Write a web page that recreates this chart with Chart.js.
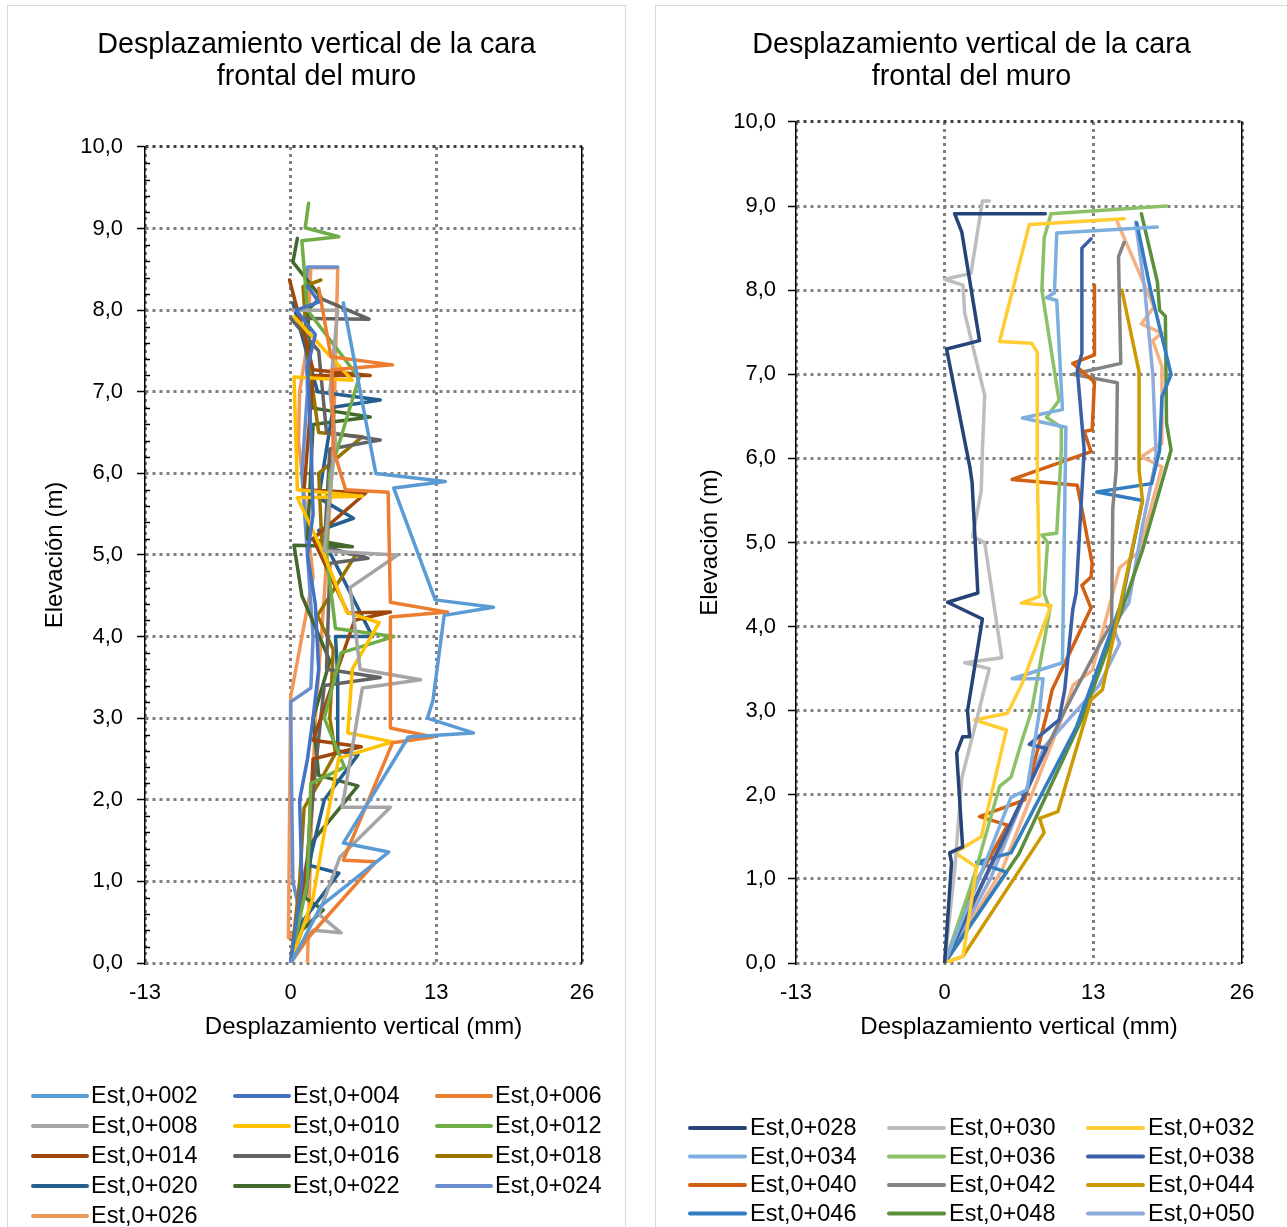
<!DOCTYPE html>
<html lang="es">
<head>
<meta charset="utf-8">
<title>Desplazamiento vertical de la cara frontal del muro</title>
<script src="https://cdn.jsdelivr.net/npm/chart.js@4.4.1/dist/chart.umd.min.js"></script>
<style>
    html, body { margin: 0; padding: 0; background: #fff; overflow: hidden; }
    body { width: 1287px; height: 1227px; position: relative; }
    .panel { position: absolute; top: 5px; border: 1px solid #d9d9d9; background: #fff; }
    #panelLeft { left: 7px; width: 617px; height: 1250px; }
    #panelRight { left: 655px; width: 640px; height: 1250px; }
    canvas { position: absolute; top: 1px; }
</style>
</head>
<body>
<div class="panel" id="panelLeft"><canvas id="chartLeft" width="615" height="1240" style="left:1px"></canvas></div>
<div class="panel" id="panelRight"><canvas id="chartRight" width="631" height="1240" style="left:0"></canvas></div>

<script>
/* ==============================
   DATA  (desplazamiento mm, elevación m)
================================= */

const titleLines = ['Desplazamiento vertical de la cara', 'frontal del muro'];
const xTitle = 'Desplazamiento vertical (mm)';
const yTitle = 'Elevación (m)';
const xTicks = [-13, 0, 13, 26];
const yTicks = [0, 1, 2, 3, 4, 5, 6, 7, 8, 9, 10];

const leftLabels = ['Est,0+002', 'Est,0+004', 'Est,0+006', 'Est,0+008', 'Est,0+010', 'Est,0+012',
    'Est,0+014', 'Est,0+016', 'Est,0+018', 'Est,0+020', 'Est,0+022', 'Est,0+024', 'Est,0+026'];

const rightLabels = ['Est,0+028', 'Est,0+030', 'Est,0+032', 'Est,0+034', 'Est,0+036', 'Est,0+038',
    'Est,0+040', 'Est,0+042', 'Est,0+044', 'Est,0+046', 'Est,0+048', 'Est,0+050', 'Est,0+052'];

// left panel
const est002 = [[0,0],[1.2,0.3],[2.7,0.7],[8.75,1.36],[4.7,1.47],[10.5,2.77],[16.3,2.82],[12.2,3.0],[12.7,3.22],[13.7,4.26],[18.1,4.36],[12.9,4.45],[9.2,5.82],[13.8,5.9],[7.6,6.0],[4.7,8.09]];
const est004 = [[0,0],[0.5,0.5],[1.0,1.0],[0.8,2.0],[1.5,2.5],[2.0,3.0],[2.5,3.6],[2.2,4.4],[1.5,5.0],[2.0,5.5],[1.8,6.5],[1.5,7.3],[2.2,7.7],[0.5,8.0],[2.5,8.1],[1.5,8.3]];
const est006 = [[0,0],[1.5,0.3],[7.6,1.24],[4.7,1.26],[9.1,2.7],[12.7,2.77],[8.9,2.88],[8.9,4.24],[14.0,4.3],[8.9,4.42],[8.7,5.77],[4.9,5.8],[3.8,6.3],[3.7,7.27],[9.1,7.33],[3.6,7.43],[2.5,8.27]];
const est008 = [[0,0],[2.0,0.4],[4.5,0.37],[2.5,0.6],[4.4,1.3],[8.9,1.91],[4.6,1.91],[6.4,3.37],[11.6,3.47],[6.2,3.6],[5.3,4.6],[9.55,5.0],[3.0,5.05],[4.0,6.4],[3.5,7.0],[4.2,8.0],[0.2,8.0]];
const est010 = [[0,0],[2.0,0.8],[3.0,1.6],[4.3,2.51],[9.1,2.71],[5.1,2.82],[5.5,3.6],[7.9,4.17],[5.0,4.3],[3.0,5.0],[0.6,5.7],[6.4,5.72],[0.6,5.8],[0.3,7.18],[5.5,7.14],[0.3,7.92]];
const est012 = [[0,0],[1.5,1.0],[1.8,2.2],[4.8,2.4],[3.0,3.0],[4.5,3.8],[9.2,4.0],[4.0,4.1],[3.2,5.0],[3.5,6.0],[6.1,7.17],[1.5,8.0],[1.0,8.85],[4.3,8.9],[1.3,9.01],[1.6,9.31]];
const est014 = [[0,0],[1.5,1.2],[2.0,2.5],[6.3,2.65],[2.0,2.73],[5.7,4.2],[8.9,4.3],[5.1,4.29],[2.0,5.2],[6.7,5.76],[1.2,5.8],[2.0,7.2],[7.1,7.2],[2.0,7.27],[-0.1,8.37]];
const est016 = [[0,0],[1.5,1.3],[2.3,2.5],[3.0,3.4],[8.0,3.5],[3.2,3.6],[3.5,4.9],[6.9,4.96],[3.0,5.1],[3.5,6.3],[8.0,6.41],[3.2,6.5],[2.5,7.5],[0,7.9],[7.0,7.89],[2.4,8.16]];
const est018 = [[0,0],[0.8,1.0],[1.2,1.9],[2.5,2.2],[4.0,2.57],[3.5,3.0],[3.8,3.84],[2.4,4.26],[5.8,5.0],[2.8,5.1],[2.5,6.0],[6.4,6.45],[2.5,6.5],[1.5,7.5],[1.1,8.29],[2.7,8.37]];
const est020 = [[0,0],[1.0,0.5],[4.3,1.1],[1.6,1.2],[3.0,2.0],[6.0,2.55],[4.2,2.6],[4.2,3.5],[4.0,4.0],[7.3,4.0],[2.5,5.3],[5.6,5.45],[2.5,5.7],[3.8,6.81],[8.0,6.9],[2.4,7.0],[0.2,8.09]];
const est022 = [[0,0],[1.0,0.4],[2.9,0.65],[1.3,0.8],[2.0,1.5],[6.0,2.17],[2.5,2.3],[2.0,3.0],[3.5,3.7],[1.0,4.5],[0.3,5.12],[5.5,5.1],[1.5,5.2],[2.0,6.6],[7.1,6.69],[2.0,6.8],[1.5,8.0],[2.7,8.16],[0.2,8.59],[0.6,8.88]];
const est024 = [[0,0],[1.0,0.5],[0.2,1.0],[0.1,2.0],[0,3.2],[1.8,3.37],[2.0,4.0],[1.5,5.0],[1.0,6.0],[1.5,7.0],[1.3,8.0],[1.5,8.53],[4.2,8.53]];
const est026 = [[1.5,0],[1.8,1.5],[2.2,3.0],[3.0,4.5],[3.8,6.3],[4.2,8.52],[1.8,8.52],[1.5,7.6],[0.8,7.0],[0.7,6.4],[2.0,4.73],[0,3.26],[-0.2,0.31],[1.5,0.55]];

// right panel
const est028 = [[0,0],[0.6,1.19],[0.44,1.31],[1.57,1.38],[1.05,2.5],[1.57,2.69],[2.18,2.69],[2.0,3.0],[3.3,4.09],[0.26,4.29],[2.9,4.4],[2.4,5.71],[2.2,5.9],[0.17,7.3],[3.05,7.4],[1.5,8.69],[0.87,8.91],[8.8,8.91]];
const est030 = [[0,0],[0.9,1.14],[1.5,2.2],[3.0,3.0],[3.9,3.5],[1.75,3.57],[5.0,3.63],[3.5,5.0],[2.45,5.07],[3.2,5.62],[3.3,6.1],[3.5,6.75],[1.75,7.73],[1.6,8.06],[0,8.13],[2.3,8.2],[3.3,9.06],[3.9,9.06]];
const est032 = [[0,0],[1.6,0.08],[2.8,1.14],[0.9,1.31],[3.2,1.5],[5.4,2.77],[2.6,2.89],[5.5,2.97],[6.8,3.33],[9.3,4.25],[6.7,4.28],[8.3,4.36],[8.1,5.86],[8.1,7.26],[7.6,7.37],[4.8,7.39],[7.4,8.78],[15.7,8.85]];
const est034 = [[0,0],[3.0,1.0],[5.8,1.97],[7.2,2.06],[8.3,3.0],[8.6,3.38],[5.9,3.38],[10.3,3.57],[10.6,6.37],[6.8,6.48],[10.3,6.58],[9.8,7.88],[8.9,7.91],[9.6,7.97],[9.8,8.68],[18.6,8.75]];
const est036 = [[0,0],[2.5,1.0],[4.8,2.1],[5.8,2.21],[6.7,2.62],[7.6,3.0],[9.2,4.2],[8.7,4.4],[9.0,5.0],[8.5,5.09],[9.8,5.11],[10.2,6.1],[10.2,6.37],[8.9,6.49],[10.0,6.69],[8.5,8.0],[8.7,8.62],[9.3,8.91],[19.4,9.0]];
const est038 = [[0,0],[4.5,1.3],[8.9,2.55],[7.4,2.6],[10.0,2.89],[10.5,3.25],[11.2,4.2],[11.5,4.4],[12.2,6.1],[11.6,7.05],[12.0,7.25],[12.0,8.5],[12.8,8.61]];
const est040 = [[0,0],[2.5,0.9],[5.5,1.64],[3.05,1.74],[7.0,1.94],[9.0,3.0],[9.4,3.25],[12.8,4.22],[12.0,4.49],[12.8,4.59],[12.9,4.75],[11.6,5.68],[5.9,5.75],[12.8,6.08],[12.2,6.32],[12.9,6.34],[13.1,6.91],[11.2,7.13],[13.1,7.23],[13.1,8.06]];
const est042 = [[0,0],[6.0,1.7],[8.9,2.55],[10.5,3.0],[13.2,3.7],[14.6,4.04],[14.7,5.41],[15.0,5.86],[15.1,6.9],[11.2,7.0],[15.4,7.13],[15.2,8.4],[15.7,8.57]];
const est044 = [[0,0],[1.6,0.08],[8.7,1.55],[8.3,1.72],[9.9,1.8],[11.3,2.45],[12.8,3.13],[13.8,3.25],[15.5,4.35],[17.3,5.5],[17.0,5.86],[17.0,7.03],[15.5,8.0]];
const est046 = [[0,0],[5.4,1.08],[2.8,1.2],[5.8,1.31],[11.5,2.8],[15.5,4.3],[17.3,5.5],[13.3,5.6],[18.1,5.7],[18.8,6.1],[19.0,6.73],[19.8,7.0],[18.0,8.0],[16.8,8.8]];
const est048 = [[0,0],[6.5,1.3],[12.0,2.9],[15.5,4.2],[17.3,4.91],[19.8,6.1],[19.4,6.42],[19.3,7.69],[18.8,7.76],[18.6,8.1],[17.2,8.91]];
const est050 = [[0,0],[4.0,1.0],[8.7,2.57],[13.5,3.3],[15.3,3.8],[14.7,4.0],[16.1,4.28],[17.3,5.2],[18.5,6.0],[18.2,7.0],[17.5,8.0],[16.7,8.81]];
const est052 = [[0,0],[5.0,1.1],[10.5,3.0],[11.2,3.3],[12.9,3.48],[15.3,4.7],[17.0,4.89],[19.0,5.9],[17.2,6.02],[19.0,6.18],[19.0,7.09],[18.2,7.4],[19.0,7.49],[17.2,7.6],[18.3,7.8],[15.1,8.81]];

const leftSeries = [est002, est004, est006, est008, est010, est012, est014, est016, est018, est020, est022, est024, est026];
const rightSeries = [est028, est030, est032, est034, est036, est038, est040, est042, est044, est046, est048, est050, est052];

/* ==============================
   STYLES
================================= */

const leftColors = ['#5B9BD5', '#4472C4', '#ED7D31', '#A5A5A5', '#FFC000', '#70AD47',
    '#9E480E', '#636363', '#997300', '#255E91', '#43682B', '#698ED0', '#F1975A'];
const rightColors = ['#264478', '#BDBDBD', '#FFCD33', '#7CAFDD', '#8CC168', '#3A5FA5',
    '#D26012', '#848484', '#CC9A00', '#327DC2', '#5B8F3C', '#8FAADC', '#F4B183'];

Chart.defaults.font.family = '"Liberation Sans", Arial, sans-serif';
Chart.defaults.color = '#000';


/* ==============================
   PLUGINS
================================= */

// legend in fixed columns, like the Excel one
const gridLegend = {
    id: 'gridLegend',
    afterDraw(chart, args, opts) {
        const ctx = chart.ctx;
        ctx.save();
        ctx.font = opts.fontSize + 'px ' + Chart.defaults.font.family;
        ctx.textBaseline = 'middle';
        ctx.textAlign = 'left';
        chart.data.datasets.forEach((ds, i) => {
            const col = i % opts.cols;
            const row = Math.floor(i / opts.cols);
            const x = opts.x + col * opts.colW;
            const y = opts.y + row * opts.rowH;
            ctx.strokeStyle = ds.borderColor;
            ctx.lineWidth = 4;
            ctx.lineCap = 'round';
            ctx.beginPath();
            ctx.moveTo(x, y);
            ctx.lineTo(x + opts.lineLen, y);
            ctx.stroke();
            ctx.fillStyle = '#000';
            ctx.fillText(ds.label, x + opts.lineLen + opts.gap, y + 1);
        });
        ctx.restore();
    }
};

// small inside ticks every 0,2 m on the elevation axis
const minorTicks = {
    id: 'minorTicks',
    afterDatasetsDraw(chart, args, opts) {
        if (!opts.display) return;
        const y = chart.scales.y;
        const left = chart.chartArea.left;
        const ctx = chart.ctx;
        ctx.save();
        ctx.strokeStyle = '#000';
        ctx.lineWidth = 1.5;
        for (let v = 0.2; v < 10; v += 0.2) {
            if (Math.abs(v - Math.round(v)) < 0.01) continue;
            const py = Math.round(y.getPixelForValue(v)) + 0.5;
            ctx.beginPath();
            ctx.moveTo(left, py);
            ctx.lineTo(left + 5, py);
            ctx.stroke();
        }
        ctx.restore();
    }
};


/* ==============================
   CHART BUILDER
================================= */

function buildChart(canvasId, labels, colors, series, geo) {
    const ctx = document.getElementById(canvasId).getContext('2d');

    return new Chart(ctx, {
        type: 'scatter',
        data: {
            datasets: series.map((pts, i) => ({
                label: labels[i],
                data: pts.map(p => ({ x: p[0], y: p[1] })),
                showLine: true,
                borderColor: colors[i],
                backgroundColor: colors[i],
                borderWidth: 3.5,
                borderJoinStyle: 'round',
                borderCapStyle: 'round',
                pointRadius: 0,
                tension: 0
            }))
        },
        options: {
            responsive: false,
            animation: false,
            events: [],
            layout: { padding: { top: 0, left: 0, right: 0, bottom: geo.padBottom } },
            plugins: {
                legend: { display: false },
                tooltip: { enabled: false },
                title: {
                    display: true,
                    text: titleLines,
                    color: '#000',
                    font: { size: 28.7, weight: 'normal', lineHeight: 1.12 },
                    padding: { top: 22, bottom: geo.titleBottom }
                },
                gridLegend: geo.legend,
                minorTicks: { display: geo.minor }
            },
            scales: {
                x: {
                    type: 'linear',
                    min: -13,
                    max: 26,
                    afterBuildTicks: s => { s.ticks = xTicks.map(v => ({ value: v })); },
                    afterFit: s => { s.height = 90; },
                    ticks: {
                        padding: 17,
                        font: { size: 22 },
                        callback: v => String(v)
                    },
                    grid: {
                        color: '#808080',
                        lineWidth: 3,
                        drawTicks: false
                    },
                    border: { display: false, dash: [3, 4] },
                    title: {
                        display: true,
                        text: xTitle,
                        font: { size: 24 },
                        padding: { top: 0, bottom: 11 }
                    }
                },
                y: {
                    type: 'linear',
                    min: 0,
                    max: 10,
                    weight: 1,
                    afterBuildTicks: s => { s.ticks = yTicks.map(v => ({ value: v })); },
                    afterFit: s => { s.width = geo.yWidth; },
                    ticks: {
                        padding: geo.tickPad,
                        font: { size: 22 },
                        callback: v => v.toFixed(1).replace('.', ',')
                    },
                    grid: {
                        color: c => (c.tick && c.tick.value === 10 ? '#404040' : '#808080'),
                        lineWidth: 3,
                        tickLength: 8,
                        tickColor: '#000',
                        tickWidth: 1.5,
                        tickBorderDash: []
                    },
                    border: { display: true, color: '#000', width: 1.5, dash: [3, 4] },
                    title: {
                        display: true,
                        text: yTitle,
                        font: { size: 24 },
                        padding: { top: geo.yTitlePad, bottom: 0 }
                    }
                },
                y2: {
                    type: 'linear',
                    position: 'right',
                    min: 0,
                    max: 10,
                    display: true,
                    afterFit: s => { s.width = geo.rightGap; },
                    ticks: { display: false },
                    grid: { drawOnChartArea: false, drawTicks: false },
                    border: { display: true, color: '#000', width: 1.5 }
                }
            }
        },
        plugins: [gridLegend, minorTicks]
    });
}

buildChart('chartLeft', leftLabels, leftColors, leftSeries, {
    rightGap: 42,
    padBottom: 194,
    titleBottom: 53.7,
    yWidth: 136,
    tickPad: 14,
    yTitlePad: 31.6,
    minor: true,
    legend: { x: 24, y: 1089, cols: 3, colW: 202, rowH: 30, lineLen: 54, gap: 4, fontSize: 23.5 }
});

buildChart('chartRight', rightLabels, rightColors, rightSeries, {
    rightGap: 45,
    padBottom: 194,
    titleBottom: 28.7,
    yWidth: 140,
    tickPad: 12,
    yTitlePad: 39.6,
    minor: false,
    legend: { x: 34, y: 1121, cols: 3, colW: 199, rowH: 28.5, lineLen: 55, gap: 5, fontSize: 23.5 }
});
</script>
</body>
</html>
